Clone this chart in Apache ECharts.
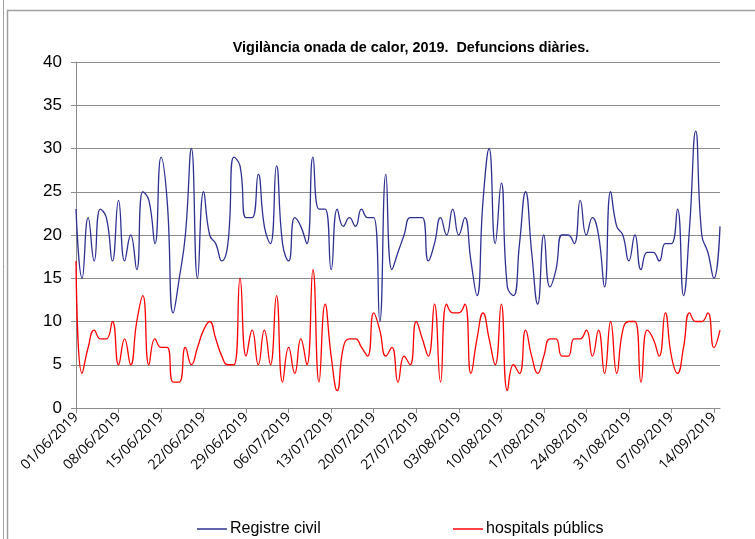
<!DOCTYPE html>
<html>
<head>
<meta charset="utf-8">
<script src="https://cdn.jsdelivr.net/npm/echarts@6/dist/echarts.min.js"></script>
<style>
	html, body { margin: 0; padding: 0; background: #fff; }
	#chart { width: 755px; height: 539px; }
</style>
</head>
<body>
<div id="chart"></div>
<script>
	// dates, one per day (01/06 - 15/09)
	var dates = [
		'01/06/2019', '02/06/2019', '03/06/2019', '04/06/2019', '05/06/2019', '06/06/2019', '07/06/2019', '08/06/2019', '09/06/2019', '10/06/2019',
		'11/06/2019', '12/06/2019', '13/06/2019', '14/06/2019', '15/06/2019', '16/06/2019', '17/06/2019', '18/06/2019', '19/06/2019', '20/06/2019',
		'21/06/2019', '22/06/2019', '23/06/2019', '24/06/2019', '25/06/2019', '26/06/2019', '27/06/2019', '28/06/2019', '29/06/2019', '30/06/2019',
		'01/07/2019', '02/07/2019', '03/07/2019', '04/07/2019', '05/07/2019', '06/07/2019', '07/07/2019', '08/07/2019', '09/07/2019', '10/07/2019',
		'11/07/2019', '12/07/2019', '13/07/2019', '14/07/2019', '15/07/2019', '16/07/2019', '17/07/2019', '18/07/2019', '19/07/2019', '20/07/2019',
		'21/07/2019', '22/07/2019', '23/07/2019', '24/07/2019', '25/07/2019', '26/07/2019', '27/07/2019', '28/07/2019', '29/07/2019', '30/07/2019',
		'31/07/2019', '01/08/2019', '02/08/2019', '03/08/2019', '04/08/2019', '05/08/2019', '06/08/2019', '07/08/2019', '08/08/2019', '09/08/2019',
		'10/08/2019', '11/08/2019', '12/08/2019', '13/08/2019', '14/08/2019', '15/08/2019', '16/08/2019', '17/08/2019', '18/08/2019', '19/08/2019',
		'20/08/2019', '21/08/2019', '22/08/2019', '23/08/2019', '24/08/2019', '25/08/2019', '26/08/2019', '27/08/2019', '28/08/2019', '29/08/2019',
		'30/08/2019', '31/08/2019', '01/09/2019', '02/09/2019', '03/09/2019', '04/09/2019', '05/09/2019', '06/09/2019', '07/09/2019', '08/09/2019',
		'09/09/2019', '10/09/2019', '11/09/2019', '12/09/2019', '13/09/2019', '14/09/2019', '15/09/2019'
	];

	// Registre civil
	var registreCivil = [
		23, 15, 22, 17, 23, 22, 17, 24, 17, 20, 16, 25, 24, 19, 29, 24, 11, 15, 20, 30,
		15, 25, 20, 19, 17, 19, 29, 28, 22, 22, 27, 21, 19, 28, 19, 17, 22, 21, 19, 29,
		23, 23, 16, 23, 21, 22, 21, 23, 22, 22, 10, 27, 16, 18, 20, 22, 22, 22, 17, 19,
		22, 20, 23, 20, 22, 17, 13, 24, 30, 19, 26, 14, 13, 19, 25, 18, 12, 20, 14, 16,
		20, 20, 19, 24, 20, 22, 20, 14, 25, 21, 20, 17, 20, 16, 18, 18, 17, 19, 19, 23,
		13, 21, 32, 20, 18, 15, 21
	];

	// hospitals públics
	var hospitalsPublics = [
		17, 4, 7, 9, 8, 8, 10, 5, 8, 5, 10, 13, 5, 8, 7, 7, 3, 3, 7, 5,
		7, 9, 10, 8, 6, 5, 5, 15, 6, 9, 5, 9, 5, 13, 3, 7, 4, 8, 5, 16,
		3, 12, 6, 2, 7, 8, 8, 7, 6, 11, 9, 6, 7, 3, 6, 5, 10, 8, 6, 12,
		3, 12, 11, 11, 12, 4, 8, 11, 8, 5, 12, 2, 5, 4, 9, 6, 4, 6, 8, 8,
		6, 6, 8, 8, 9, 6, 9, 4, 10, 4, 9, 10, 10, 3, 9, 8, 6, 11, 6, 4,
		7, 11, 10, 10, 11, 7, 9
	];

	var yMin = 0;
	var yMax = 40;
	var yStep = 5;

	var sans = "'Liberation Sans', Arial, sans-serif";

	var chart = echarts.init(document.getElementById('chart'));

	var option = {
		backgroundColor: '#fff',
		animation: false,
		title: {
			text: 'Vigilància onada de calor, 2019.  Defuncions diàries.',
			left: 406,
			top: 36,
			textAlign: 'center',
			textStyle: {
				fontFamily: sans,
				fontWeight: 'bold',
				fontSize: 14.4,
				color: '#000'
			}
		},
		legend: [{
			data: ['Registre civil'],
			left: 192,
			top: 516,
			icon: 'rect',
			itemWidth: 30,
			itemHeight: 1.5,
			itemGap: 0,
			textStyle: { fontFamily: sans, fontSize: 16, color: '#000', padding: [0, 0, 0, -2] }
		}, {
			data: ['hospitals públics'],
			left: 448,
			top: 516,
			icon: 'rect',
			itemWidth: 30,
			itemHeight: 1.5,
			itemGap: 0,
			textStyle: { fontFamily: sans, fontSize: 16, color: '#000', padding: [0, 0, 0, -2] }
		}],
		grid: {
			left: 76,
			right: 35,
			top: 62,
			bottom: 131
		},
		xAxis: {
			type: 'category',
			data: dates,
			boundaryGap: false,
			axisLine: { lineStyle: { color: '#8c8c8c', width: 1 } },
			axisTick: { show: true, interval: 6, length: 5, lineStyle: { color: '#8c8c8c' } },
			axisLabel: {
				interval: 6,
				rotate: 45,
				margin: 7,
				fontFamily: "'Open Sans', 'Noto Sans', sans-serif",
				fontSize: 14,
				color: '#000'
			},
			splitLine: { show: false }
		},
		yAxis: {
			type: 'value',
			min: yMin,
			max: yMax,
			interval: yStep,
			axisLine: { show: true, lineStyle: { color: '#8c8c8c', width: 1 } },
			axisTick: { show: true, length: 5, lineStyle: { color: '#8c8c8c' } },
			axisLabel: {
				margin: 14,
				fontFamily: sans,
				fontSize: 17,
				color: '#000'
			},
			splitLine: { show: true, lineStyle: { color: '#8c8c8c', width: 1.2 } }
		},
		series: [{
			name: 'Registre civil',
			type: 'line',
			data: registreCivil,
			symbol: 'none',
			smooth: 0.5,
			itemStyle: { color: '#2e3192' },
			lineStyle: { color: '#2e3192', width: 1.3 }
		}, {
			name: 'hospitals públics',
			type: 'line',
			data: hospitalsPublics,
			symbol: 'none',
			smooth: 0.5,
			itemStyle: { color: '#ff0000' },
			lineStyle: { color: '#ff0000', width: 1.3 }
		}],
		graphic: [{
			type: 'line',
			shape: { x1: 3.5, y1: 0, x2: 3.5, y2: 539 },
			style: { stroke: '#a0a0a0', lineWidth: 1 }
		}, {
			type: 'rect',
			shape: { x: 7.5, y: 10.5, width: 800, height: 600 },
			style: { stroke: '#a0a0a0', lineWidth: 1.5, fill: 'none' }
		}]
	};

	chart.setOption(option);
</script>
</body>
</html>
